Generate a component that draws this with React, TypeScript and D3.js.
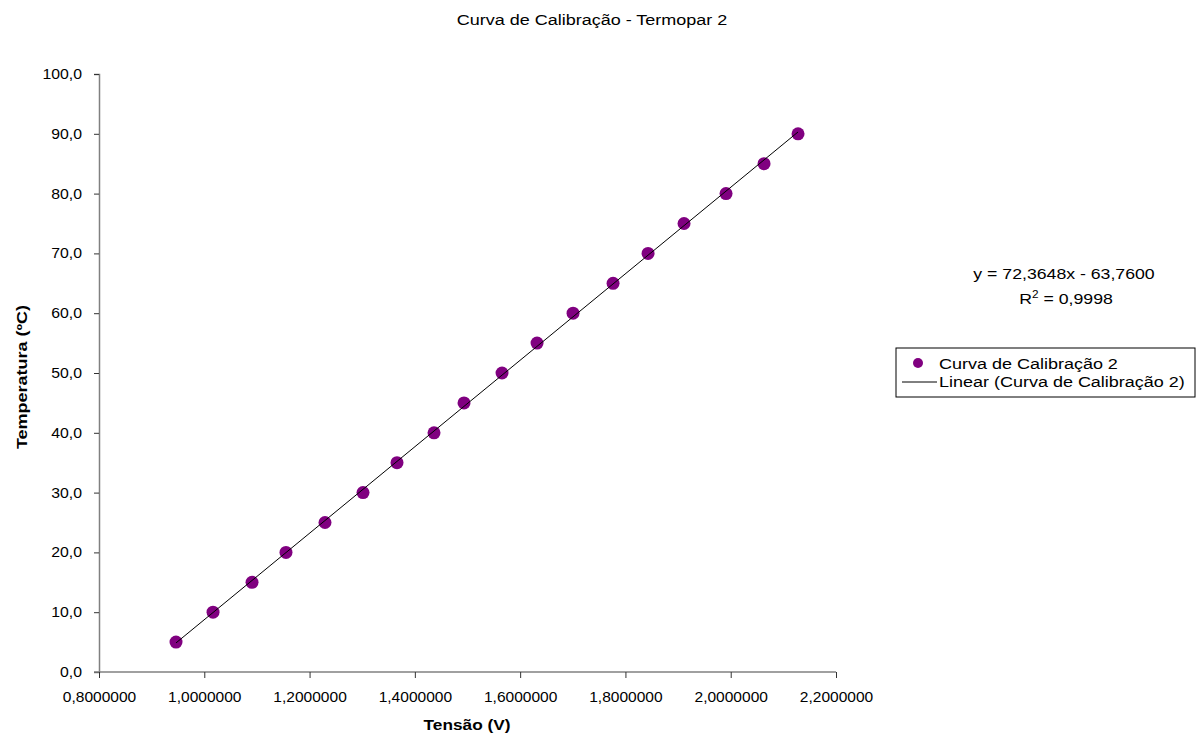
import React, { useEffect, useRef } from 'react';
import * as d3 from 'd3';

// Tensão (V), one per temperature step
const tensao = [
  0.9463, 1.0166, 1.0907, 1.1552, 1.2293, 1.3015, 1.3661, 1.4364, 1.4934,
  1.5656, 1.6321, 1.7005, 1.7765, 1.843, 1.9113, 1.9911, 2.0633, 2.1279,
];
const temperatura = [5, 10, 15, 20, 25, 30, 35, 40, 45, 50, 55, 60, 65, 70, 75, 80, 85, 90];

const xTicks = [0.8, 1.0, 1.2, 1.4, 1.6, 1.8, 2.0, 2.2];
const yTicks = [0, 10, 20, 30, 40, 50, 60, 70, 80, 90, 100];

const title = 'Curva de Calibração - Termopar 2';
const xTitle = 'Tensão (V)';
const yTitle = 'Temperatura (ºC)';
const seriesName = 'Curva de Calibração 2';
const trendName = 'Linear (Curva de Calibração 2)';
const equation = 'y = 72,3648x - 63,7600';
const r2Value = ' = 0,9998';

const FONT = 'Liberation Sans, Arial, sans-serif';
const PURPLE = '#800080';

const App: React.FC = () => {
  const svgRef = useRef<SVGSVGElement>(null);

  useEffect(() => {
    if (!svgRef.current) return;
    const width = 1198;
    const height = 738;

    d3.select(svgRef.current).selectAll('*').remove();
    const svg = d3.select(svgRef.current)
      .attr('width', width)
      .attr('height', height);

    svg.append('rect').attr('width', width).attr('height', height).attr('fill', '#ffffff');

    // the original text is a little wider than Liberation Sans, so stretch it sideways
    const label = (
      parent: d3.Selection<any, unknown, null, undefined>,
      x: number, y: number, txt: string, size: number, sx: number,
      anchor = 'start', bold = false, rotate = 0,
    ) => parent.append('text')
      .attr('transform', `translate(${x},${y}) rotate(${rotate}) scale(${sx},1)`)
      .attr('text-anchor', anchor)
      .style('font-family', FONT)
      .style('font-size', `${size}px`)
      .style('font-weight', bold ? 'bold' : 'normal')
      .text(txt);

    const margin = { top: 74, left: 99, right: 362, bottom: 66 };
    const x = d3.scaleLinear().domain([0.8, 2.2]).range([margin.left, width - margin.right]);
    const y = d3.scaleLinear().domain([0, 100]).range([height - margin.bottom, margin.top]);

    // Y axis
    const yAxis = svg.append('g')
      .attr('transform', `translate(${margin.left},0)`)
      .call(d3.axisLeft(y).tickValues(yTicks).tickSize(5).tickPadding(10)
        .tickFormat(d => d3.format('.1f')(d as number).replace('.', ',')));
    yAxis.select('.domain').attr('stroke', '#808080').attr('stroke-width', 1.5);
    yAxis.selectAll('.tick line').attr('stroke', '#333333');
    yAxis.selectAll('text')
      .attr('fill', '#000000')
      .attr('transform', 'scale(1.13,1)')
      .style('font-family', FONT)
      .style('font-size', '14px');

    // X axis
    const xAxis = svg.append('g')
      .attr('transform', `translate(0,${y(0)})`)
      .call(d3.axisBottom(x).tickValues(xTicks).tickSize(6).tickPadding(14)
        .tickFormat(d => d3.format('.7f')(d as number).replace('.', ',')));
    xAxis.select('.domain').attr('stroke', '#808080').attr('stroke-width', 1.5)
      .attr('d', `M${margin.left - 5},0H${x(2.2)}`);
    xAxis.selectAll('.tick line').attr('stroke', '#333333');
    xAxis.selectAll('text')
      .attr('fill', '#000000')
      .attr('transform', 'scale(1.11,1)')
      .style('font-family', FONT)
      .style('font-size', '14px');

    // Least-squares trendline through the points
    const xm = d3.mean(tensao) as number;
    const ym = d3.mean(temperatura) as number;
    const sxy = d3.sum(tensao, (v, i) => (v - xm) * (temperatura[i] - ym));
    const sxx = d3.sum(tensao, v => (v - xm) * (v - xm));
    const slope = sxy / sxx;
    const intercept = ym - slope * xm;
    const xExt = d3.extent(tensao) as [number, number];

    const pts = tensao.map((v, i) => ({ v, t: temperatura[i] }));

    svg.append('g')
      .selectAll('circle')
      .data(pts)
      .enter()
      .append('circle')
      .attr('cx', d => x(d.v))
      .attr('cy', d => y(d.t))
      .attr('r', 6.5)
      .attr('fill', PURPLE);

    svg.append('line')
      .attr('x1', x(xExt[0]))
      .attr('y1', y(slope * xExt[0] + intercept))
      .attr('x2', x(xExt[1]))
      .attr('y2', y(slope * xExt[1] + intercept))
      .attr('stroke', '#000000')
      .attr('stroke-width', 1);

    // Titles
    label(svg, 592, 25, title, 15, 1.2, 'middle');
    label(svg, 467, 730, xTitle, 15, 1.15, 'middle', true);
    label(svg, 27, 377, yTitle, 15, 1.2, 'middle', true, -90);

    // Equation + R²
    label(svg, 1064, 279, equation, 15, 1.18, 'middle');
    const r2 = label(svg, 1066, 304, '', 15, 1.18, 'middle');
    r2.append('tspan').text('R');
    r2.append('tspan').attr('dy', -6).style('font-size', '10px').text('2');
    r2.append('tspan').attr('dy', 6).text(r2Value);

    // Legend
    const legend = svg.append('g').attr('transform', 'translate(896,348)');
    legend.append('rect')
      .attr('width', 299)
      .attr('height', 49)
      .attr('fill', '#ffffff')
      .attr('stroke', '#000000')
      .attr('stroke-width', 1);
    legend.append('circle')
      .attr('cx', 22)
      .attr('cy', 15)
      .attr('r', 5)
      .attr('fill', PURPLE);
    label(legend, 43, 21, seriesName, 15, 1.2);
    legend.append('line')
      .attr('x1', 6)
      .attr('x2', 41)
      .attr('y1', 34)
      .attr('y2', 34)
      .attr('stroke', '#000000')
      .attr('stroke-width', 1);
    label(legend, 43, 39, trendName, 15, 1.2);
  }, []);

  return (
    <div style={{ position: 'absolute', left: 0, top: 0 }}>
      <svg ref={svgRef}></svg>
    </div>
  );
};

export default App;
